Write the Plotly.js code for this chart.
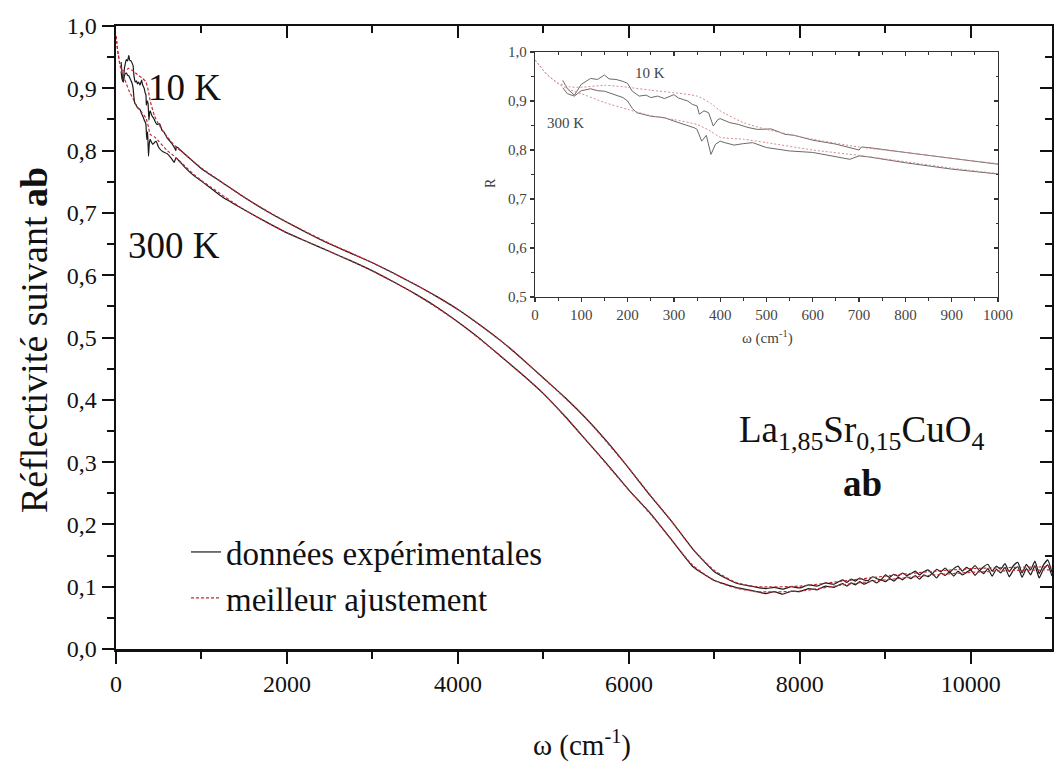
<!DOCTYPE html>
<html><head><meta charset="utf-8">
<script src="https://cdn.plot.ly/plotly-3.0.1.min.js"></script>
<style>html,body{margin:0;padding:0;background:#fff}#chart{width:1054px;height:763px}</style>
</head><body><div id="chart"></div>
<script>
// ---- low-frequency data (also shown in the inset), omega in cm^-1 ----
const w10Low = [60,70,85,100,110,120,135,150,160,175,190,200,210,225,240,250,265,280,300,310,320,330,340,350,355,365,375,385,395,400,420,440,460,480,510,540,560,600,650,690,700,705,720,800,900];
const r10Low = [0.942,0.925,0.912,0.934,0.940,0.946,0.944,0.953,0.945,0.944,0.940,0.936,0.920,0.910,0.912,0.907,0.910,0.905,0.913,0.906,0.903,0.900,0.893,0.890,0.873,0.880,0.876,0.849,0.862,0.864,0.856,0.852,0.846,0.842,0.843,0.832,0.830,0.820,0.812,0.803,0.800,0.806,0.805,0.795,0.783];
const w300Low = [60,70,85,100,120,135,150,170,190,200,210,220,240,250,270,280,300,320,330,345,350,360,370,380,390,400,410,430,450,470,500,550,600,650,680,700,720,800,900];
const r300Low = [0.927,0.915,0.910,0.921,0.925,0.921,0.920,0.914,0.907,0.900,0.885,0.876,0.872,0.869,0.867,0.866,0.859,0.853,0.849,0.845,0.842,0.818,0.830,0.791,0.812,0.818,0.815,0.810,0.813,0.815,0.805,0.798,0.795,0.787,0.781,0.788,0.786,0.774,0.761];
const wFitLow = [0,10,25,50,75,100,150,200,250,300,350,380,400,450,500,600,700,800,900];
const fit10Low = [0.984,0.972,0.955,0.937,0.929,0.928,0.932,0.928,0.922,0.917,0.910,0.895,0.880,0.856,0.842,0.822,0.806,0.795,0.783];
const fit300Low = [0.984,0.972,0.955,0.935,0.923,0.915,0.897,0.883,0.870,0.862,0.852,0.838,0.826,0.822,0.815,0.800,0.789,0.776,0.763];

// ---- high-frequency data (main panel) ----
const wHigh = [1000,1250,1500,1750,2000,2250,2500,2750,3000,3250,3500,3750,4000,4250,4500,4750,5000,5250,5500,5750,6000,6250,6500,6750,7000,7250,7500,
  7600,7700,7800,7900,8000,8100,8200,8300,8400,
  8500,8550,8600,8650,8700,8750,8800,8850,8900,8950,9000,9050,9100,9150,9200,9250,9300,9350,9400,9450,9500,9550,9600,9650,9700,9750,9800,9850,9900,9950,
  10000,10050,10100,10150,10200,10250,10300,10350,10400,10450,10500,10550,10600,10650,10700,10750,10800,10850,10900,10950];
const r10High = [0.771,0.748,0.725,0.704,0.685,0.667,0.650,0.635,0.620,0.603,0.585,0.566,0.545,0.521,0.495,0.466,0.435,0.404,0.370,0.332,0.290,0.246,0.205,0.160,0.124,0.106,0.099,
  0.097,0.099,0.096,0.100,0.098,0.103,0.101,0.106,0.104,
  0.111,0.107,0.112,0.109,0.114,0.111,0.110,0.116,0.113,0.111,0.119,0.115,0.120,0.117,0.122,0.118,0.121,0.125,0.119,0.124,0.127,0.121,0.128,0.124,0.130,0.123,0.129,0.133,0.125,0.131,
  0.127,0.134,0.126,0.132,0.136,0.125,0.133,0.128,0.137,0.124,0.134,0.139,0.122,0.136,0.127,0.141,0.121,0.135,0.143,0.123];
const r300High = [0.751,0.725,0.705,0.686,0.668,0.653,0.638,0.623,0.607,0.589,0.570,0.549,0.525,0.499,0.470,0.441,0.410,0.374,0.335,0.296,0.255,0.218,0.175,0.132,0.110,0.099,0.092,
  0.089,0.092,0.088,0.093,0.092,0.097,0.095,0.101,0.099,
  0.105,0.101,0.106,0.103,0.108,0.104,0.107,0.110,0.106,0.111,0.108,0.113,0.109,0.115,0.111,0.116,0.113,0.118,0.112,0.119,0.116,0.121,0.114,0.122,0.118,0.124,0.117,0.125,0.119,0.123,
  0.127,0.118,0.126,0.121,0.129,0.117,0.128,0.122,0.131,0.116,0.127,0.132,0.115,0.129,0.119,0.134,0.114,0.128,0.135,0.117];
const wFitHigh = [1000,1500,2000,2500,3000,3500,4000,4500,5000,5500,6000,6250,6500,6750,7000,7250,7500,8000,8500,9000,9500,10000,10500,10970];
const fit10High = [0.772,0.725,0.685,0.651,0.620,0.585,0.545,0.495,0.435,0.370,0.290,0.247,0.205,0.160,0.126,0.107,0.100,0.101,0.109,0.117,0.124,0.129,0.131,0.132];
const fit300High = [0.752,0.705,0.668,0.638,0.607,0.570,0.525,0.470,0.410,0.335,0.255,0.217,0.175,0.134,0.110,0.098,0.092,0.093,0.103,0.111,0.118,0.123,0.126,0.127];

// ---- tick values ----
const mainXTicks = [0,2000,4000,6000,8000,10000];
const mainYTicks = [0,0.1,0.2,0.3,0.4,0.5,0.6,0.7,0.8,0.9,1.0];
const insetXTicks = [0,100,200,300,400,500,600,700,800,900,1000];
const insetYTicks = [0.5,0.6,0.7,0.8,0.9,1.0];

const W = 1054, H = 763;
const px = x => x / W;
const py = y => 1 - y / H;
const serif = 'Liberation Serif';
const ink = '#111';
const dataCol = '#1a1a1a';
const fitCol = '#c22a35';
const inkInset = '#444';
const fmtDec = v => v.toFixed(1).replace('.', ',');
const fmtInt = v => String(v);

const traces = [
  {x: w10Low.concat(wHigh), y: r10Low.concat(r10High), xaxis:'x', yaxis:'y', mode:'lines', name:'données expérimentales', line:{color:dataCol, width:1.2, shape:'spline', smoothing:0.4}, showlegend:true},
  {x: w300Low.concat(wHigh), y: r300Low.concat(r300High), xaxis:'x', yaxis:'y', mode:'lines', name:'données 300 K', line:{color:dataCol, width:1.2, shape:'spline', smoothing:0.4}, showlegend:false},
  {x: wFitLow.concat(wFitHigh), y: fit10Low.concat(fit10High), xaxis:'x', yaxis:'y', mode:'lines', name:'meilleur ajustement', line:{color:fitCol, width:1.2, dash:'3px,2px', shape:'spline', smoothing:0.6}, showlegend:true},
  {x: wFitLow.concat(wFitHigh), y: fit300Low.concat(fit300High), xaxis:'x', yaxis:'y', mode:'lines', name:'ajustement 300 K', line:{color:fitCol, width:1.2, dash:'3px,2px', shape:'spline', smoothing:0.6}, showlegend:false},
  // inset
  {x: w10Low.concat(wHigh.slice(0,1)), y: r10Low.concat(r10High.slice(0,1)), xaxis:'x3', yaxis:'y3', mode:'lines', line:{color:'#6a6a6a', width:1}, showlegend:false},
  {x: w300Low.concat(wHigh.slice(0,1)), y: r300Low.concat(r300High.slice(0,1)), xaxis:'x3', yaxis:'y3', mode:'lines', line:{color:'#6a6a6a', width:1}, showlegend:false},
  {x: wFitLow.concat(wFitHigh.slice(0,1)), y: fit10Low.concat(fit10High.slice(0,1)), xaxis:'x3', yaxis:'y3', mode:'lines', line:{color:'#d98a8a', width:1, dash:'2px,2px', shape:'spline', smoothing:0.6}, showlegend:false},
  {x: wFitLow.concat(wFitHigh.slice(0,1)), y: fit300Low.concat(fit300High.slice(0,1)), xaxis:'x3', yaxis:'y3', mode:'lines', line:{color:'#d98a8a', width:1, dash:'2px,2px', shape:'spline', smoothing:0.6}, showlegend:false},
  // empty traces so the mirror axes exist
  {x: [], y: [], xaxis:'x2', yaxis:'y2', mode:'lines', showlegend:false, hoverinfo:'skip'},
  {x: [], y: [], xaxis:'x4', yaxis:'y4', mode:'lines', showlegend:false, hoverinfo:'skip'}
];

const mainAxisCommon = {showline:true, linewidth:2.5, linecolor:ink, tickcolor:ink, tickwidth:2, showgrid:false, zeroline:false, fixedrange:true};
const insetAxisCommon = {showline:true, linewidth:1.3, linecolor:'#333', tickcolor:'#333', tickwidth:1.2, showgrid:false, zeroline:false, fixedrange:true};

const layout = {
  width: W, height: H,
  margin:{l:0, r:0, t:0, b:0},
  paper_bgcolor:'#ffffff', plot_bgcolor:'rgba(0,0,0,0)',
  font:{family:serif, color:ink},
  showlegend:true,
  legend:{x:px(186), y:py(524), xanchor:'left', yanchor:'top', font:{family:serif, size:33, color:ink}, bgcolor:'rgba(0,0,0,0)', borderwidth:0, tracegroupgap:0},
  xaxis: Object.assign({}, mainAxisCommon, {domain:[px(116), px(1052)], range:[0,10950], anchor:'y', ticks:'outside', ticklen:12, tickmode:'array', tickvals:mainXTicks, ticktext:mainXTicks.map(fmtInt), minor:{dtick:1000, tick0:0, ticks:'outside', ticklen:7, tickwidth:2, tickcolor:ink}, tickfont:{family:serif, size:24, color:ink}}),
  xaxis2: Object.assign({}, mainAxisCommon, {overlaying:'x', side:'top', anchor:'y', range:[0,10950], ticks:'inside', ticklen:12, tickmode:'array', tickvals:mainXTicks, minor:{dtick:1000, tick0:0, ticks:'inside', ticklen:7, tickwidth:2, tickcolor:ink}, showticklabels:false}),
  yaxis: Object.assign({}, mainAxisCommon, {domain:[py(649), py(26)], range:[0,1.0], anchor:'x', ticks:'outside', ticklen:12, tickmode:'array', tickvals:mainYTicks, ticktext:mainYTicks.map(fmtDec), minor:{dtick:0.05, tick0:0, ticks:'outside', ticklen:7, tickwidth:2, tickcolor:ink}, tickfont:{family:serif, size:24, color:ink}}),
  yaxis2: Object.assign({}, mainAxisCommon, {overlaying:'y', side:'right', anchor:'x', range:[0,1.0], ticks:'inside', ticklen:12, tickmode:'array', tickvals:mainYTicks, minor:{dtick:0.05, tick0:0, ticks:'inside', ticklen:7, tickwidth:2, tickcolor:ink}, showticklabels:false}),
  xaxis3: Object.assign({}, insetAxisCommon, {domain:[px(535), px(998)], range:[0,1000], anchor:'y3', ticks:'outside', ticklen:4, tickmode:'array', tickvals:insetXTicks, ticktext:insetXTicks.map(fmtInt), minor:{dtick:50, tick0:0, ticks:'outside', ticklen:2.5, tickwidth:1, tickcolor:'#333'}, tickfont:{family:serif, size:15, color:inkInset}}),
  xaxis4: Object.assign({}, insetAxisCommon, {overlaying:'x3', side:'top', anchor:'y3', range:[0,1000], ticks:'inside', ticklen:4, tickmode:'array', tickvals:insetXTicks, minor:{dtick:50, tick0:0, ticks:'inside', ticklen:2.5, tickwidth:1, tickcolor:'#333'}, showticklabels:false}),
  yaxis3: Object.assign({}, insetAxisCommon, {domain:[py(297), py(52)], range:[0.5,1.0], anchor:'x3', ticks:'outside', ticklen:4, tickmode:'array', tickvals:insetYTicks, ticktext:insetYTicks.map(fmtDec), minor:{dtick:0.05, tick0:0.5, ticks:'outside', ticklen:2.5, tickwidth:1, tickcolor:'#333'}, tickfont:{family:serif, size:15, color:inkInset}}),
  yaxis4: Object.assign({}, insetAxisCommon, {overlaying:'y3', side:'right', anchor:'x3', range:[0.5,1.0], ticks:'inside', ticklen:4, tickmode:'array', tickvals:insetYTicks, minor:{dtick:0.05, tick0:0.5, ticks:'inside', ticklen:2.5, tickwidth:1, tickcolor:'#333'}, showticklabels:false}),
  annotations:[
    {text:'10 K', x:px(184), y:py(88), xref:'paper', yref:'paper', showarrow:false, xanchor:'center', yanchor:'middle', font:{family:serif, size:37, color:ink}},
    {text:'300 K', x:px(174), y:py(245), xref:'paper', yref:'paper', showarrow:false, xanchor:'center', yanchor:'middle', font:{family:serif, size:37, color:ink}},
    {text:'Réflectivité suivant <b>ab</b>', textangle:-90, x:px(34), y:py(340), xref:'paper', yref:'paper', showarrow:false, xanchor:'center', yanchor:'middle', font:{family:serif, size:38, color:ink}},
    {text:'ω (cm<sup>-1</sup>)', x:px(582), y:py(743), xref:'paper', yref:'paper', showarrow:false, xanchor:'center', yanchor:'middle', font:{family:serif, size:29, color:ink}},
    {text:'La<sub>1,85</sub>Sr<sub>0,15</sub>CuO<sub>4</sub>', x:px(861), y:py(432), xref:'paper', yref:'paper', showarrow:false, xanchor:'center', yanchor:'middle', font:{family:serif, size:37, color:ink}},
    {text:'<b>ab</b>', x:px(862), y:py(483), xref:'paper', yref:'paper', showarrow:false, xanchor:'center', yanchor:'middle', font:{family:serif, size:37, color:ink}},
    // inset texts
    {text:'10 K', x:px(650), y:py(73), xref:'paper', yref:'paper', showarrow:false, xanchor:'center', yanchor:'middle', font:{family:serif, size:15, color:inkInset}},
    {text:'300 K', x:px(565), y:py(123), xref:'paper', yref:'paper', showarrow:false, xanchor:'center', yanchor:'middle', font:{family:serif, size:15, color:inkInset}},
    {text:'R', textangle:-90, x:px(490), y:py(183), xref:'paper', yref:'paper', showarrow:false, xanchor:'center', yanchor:'middle', font:{family:serif, size:14, color:inkInset}},
    {text:'ω (cm<sup>-1</sup>)', x:px(767), y:py(337), xref:'paper', yref:'paper', showarrow:false, xanchor:'center', yanchor:'middle', font:{family:serif, size:15, color:inkInset}}
  ]
};

Plotly.newPlot('chart', traces, layout, {staticPlot:true, displayModeBar:false});
</script>
</body></html>
